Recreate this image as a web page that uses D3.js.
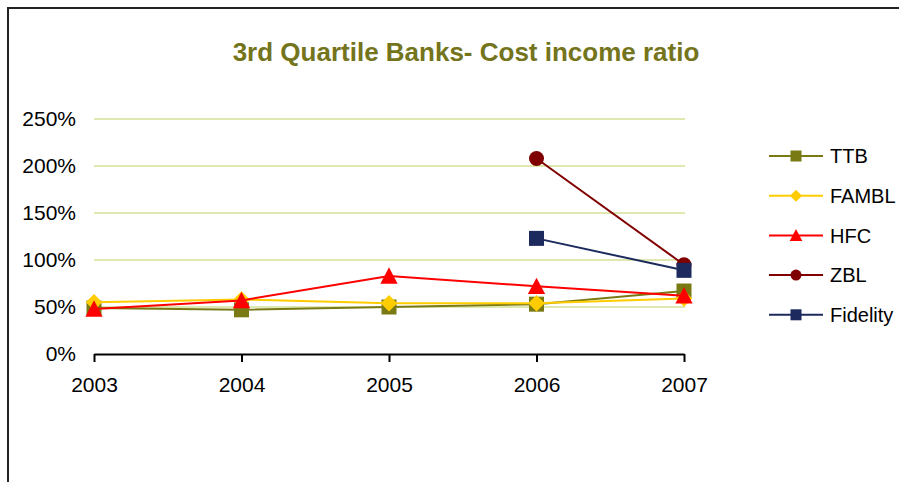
<!DOCTYPE html>
<html>
<head>
<meta charset="utf-8">
<script src="https://cdn.jsdelivr.net/npm/d3@7"></script>
<style>
  html, body { margin: 0; padding: 0; background: #fff; }
  svg { display: block; font-family: "Liberation Sans", Arial, sans-serif; }
</style>
</head>
<body>
<svg id="chart" width="899" height="482"></svg>
<script>
// Years on the category axis
const years = ["2003", "2004", "2005", "2006", "2007"];

// Cost income ratio per bank (fraction); null = no data that year
const ttb      = [0.49, 0.47, 0.50, 0.53, 0.67];
const fambl    = [0.55, 0.58, 0.54, 0.54, 0.59];
const hfc      = [0.48, 0.57, 0.83, 0.72, 0.62];
const zbl      = [null, null, null, 2.08, 0.95];
const fidelity = [null, null, null, 1.23, 0.89];

const yTicks = [0, 0.5, 1, 1.5, 2, 2.5];

const seriesNames = ["TTB", "FAMBL", "HFC", "ZBL", "Fidelity"];
const seriesValues = [ttb, fambl, hfc, zbl, fidelity];
const seriesColors = ["#7a7a14", "#ffcc00", "#ff0000", "#800000", "#1c2a5e"];
const seriesShapes = ["square", "diamond", "triangle", "circle", "square"];

const series = seriesNames.map((name, i) => ({
  name,
  color: seriesColors[i],
  shape: seriesShapes[i],
  points: years.map((yr, j) => ({ year: yr, value: seriesValues[i][j] }))
                .filter(p => p.value !== null)
}));

const svg = d3.select("#chart");

// Outer chart frame (top and left edges)
svg.append("path")
  .attr("d", "M8,482 L8,8 L899,8")
  .attr("fill", "none")
  .attr("stroke", "#222")
  .attr("stroke-width", 2);

// Title
svg.append("text")
  .attr("x", 466)
  .attr("y", 61)
  .attr("text-anchor", "middle")
  .attr("font-size", 26)
  .attr("font-weight", "bold")
  .attr("fill", "#74741c")
  .text("3rd Quartile Banks- Cost income ratio");

const x = d3.scalePoint().domain(years).range([94, 684]);
const y = d3.scaleLinear().domain([0, 2.5]).range([354, 119]);

// Horizontal gridlines
svg.append("g")
  .selectAll("line")
  .data(yTicks.filter(t => t > 0))
  .join("line")
  .attr("x1", 94)
  .attr("x2", 685)
  .attr("y1", d => y(d))
  .attr("y2", d => y(d))
  .attr("stroke", "#dfe8b0")
  .attr("stroke-width", 2);

// Y axis labels (no axis line)
const yAxis = svg.append("g")
  .attr("transform", "translate(94,0)")
  .call(d3.axisLeft(y).tickValues(yTicks).tickFormat(d3.format(".0%")).tickSize(0).tickPadding(18));
yAxis.select(".domain").remove();
yAxis.selectAll("text")
  .attr("font-size", 21)
  .attr("font-family", "'Liberation Sans', Arial, sans-serif")
  .attr("fill", "#000");

// X axis
const xAxis = svg.append("g")
  .attr("transform", "translate(0,354)")
  .call(d3.axisBottom(x).tickSizeInner(8).tickSizeOuter(0).tickPadding(15));
xAxis.select(".domain").attr("stroke", "#000").attr("stroke-width", 2);
xAxis.selectAll(".tick line").attr("stroke", "#000").attr("stroke-width", 2);
xAxis.selectAll("text")
  .attr("font-size", 21)
  .attr("font-family", "'Liberation Sans', Arial, sans-serif")
  .attr("fill", "#000");

// Marker drawing helper
function drawMarker(g, shape, cx, cy, size, color) {
  const h = size / 2;
  if (shape === "square") {
    g.append("rect").attr("x", cx - h).attr("y", cy - h)
      .attr("width", size).attr("height", size).attr("fill", color);
  } else if (shape === "diamond") {
    const d = h * 1.1;
    g.append("path")
      .attr("d", `M${cx},${cy - d}L${cx + d},${cy}L${cx},${cy + d}L${cx - d},${cy}Z`)
      .attr("fill", color);
  } else if (shape === "triangle") {
    const t = h * 1.15;
    g.append("path")
      .attr("d", `M${cx},${cy - t}L${cx + t},${cy + t * 0.9}L${cx - t},${cy + t * 0.9}Z`)
      .attr("fill", color);
  } else if (shape === "circle") {
    g.append("circle").attr("cx", cx).attr("cy", cy).attr("r", h).attr("fill", color);
  }
}

const line = d3.line().x(d => x(d.year)).y(d => y(d.value));

// Series lines and markers
series.forEach(s => {
  const g = svg.append("g");
  g.append("path")
    .datum(s.points)
    .attr("d", line)
    .attr("fill", "none")
    .attr("stroke", s.color)
    .attr("stroke-width", 2);
  s.points.forEach(p => drawMarker(g, s.shape, x(p.year), y(p.value), 15, s.color));
});

// Legend
const legend = svg.append("g");
series.forEach((s, i) => {
  const ly = 156 + i * 39.7;
  legend.append("line")
    .attr("x1", 769).attr("x2", 823)
    .attr("y1", ly).attr("y2", ly)
    .attr("stroke", s.color).attr("stroke-width", 2);
  drawMarker(legend, s.shape, 796, ly, 11, s.color);
  legend.append("text")
    .attr("x", 830).attr("y", ly)
    .attr("dy", "0.36em")
    .attr("font-size", 20)
    .attr("fill", "#000")
    .text(s.name);
});
</script>
</body>
</html>
